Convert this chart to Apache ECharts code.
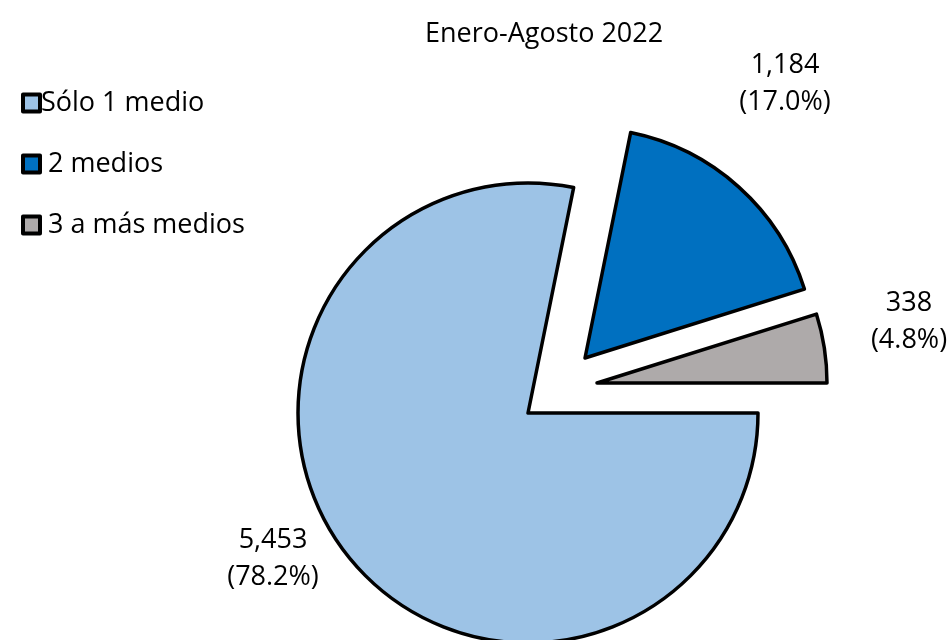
<!DOCTYPE html>
<html>
<head>
<meta charset="utf-8">
<script src="https://cdn.jsdelivr.net/npm/echarts@6/dist/echarts.min.js"></script>
<style>html,body{margin:0;padding:0;background:#fff}#c{width:948px;height:640px}</style>
</head>
<body>
<div id="c"></div>
<script>
const titleText = 'Enero-Agosto 2022';
const categories = ['Sólo 1 medio', ' 2 medios', ' 3 a más medios'];
const values = [5453, 1184, 338];
const colors = ['#9DC3E6', '#0070C0', '#AEAAAA'];
// slice anchor (pie centre of each exploded slice) and label centres
const sliceCenters = [[528, 413], [585, 358], [597, 383]];
const labelCenters = [[273, 559], [785, 84], [909, 322]];

const FONT = 'Open Sans';
const FS = 27;
const total = values.reduce((a, b) => a + b, 0);
const fmt = v => v.toLocaleString('en-US');

const chart = echarts.init(document.getElementById('c'));
const series = categories.map((_, s) => ({
  type: 'pie',
  radius: 230,
  center: sliceCenters[s],
  startAngle: 0,
  clockwise: true,
  silent: true,
  animation: false,
  labelLine: { show: false },
  labelLayout: function (p) {
    const c = labelCenters[p.dataIndex];
    return { x: c[0], y: c[1], align: 'center', verticalAlign: 'middle' };
  },
  data: categories.map((name, i) => ({
    name: name,
    value: values[i],
    itemStyle: i === s
      ? { color: colors[i], borderColor: '#000', borderWidth: 3.5, borderJoin: 'round' }
      : { color: 'rgba(0,0,0,0)', borderWidth: 0 },
    label: i === s
      ? {
          show: true,
          position: 'outside',
          overflow: 'none',
          formatter: () => fmt(values[i]) + '\n(' + (values[i] / total * 100).toFixed(1) + '%)',
          fontFamily: FONT, fontSize: FS, color: '#000', lineHeight: 37, align: 'center'
        }
      : { show: false }
  }))
}));

chart.setOption({
  backgroundColor: '#fff',
  title: {
    text: titleText, left: 420, top: 16,
    textStyle: { fontFamily: FONT, fontSize: FS, fontWeight: 'normal', color: '#000' }
  },
  legend: {
    orient: 'vertical', left: 16, top: 84,
    itemWidth: 17, itemHeight: 17, itemGap: 33,
    selectedMode: false,
    icon: 'rect',
    textStyle: { fontFamily: FONT, fontSize: FS, lineHeight: 28, color: '#000', padding: [0, 0, 0, -4] },
    data: categories.map((n, i) => ({
      name: n, itemStyle: { color: colors[i], borderColor: '#000', borderWidth: 4 }
    }))
  },
  series: series
});
</script>
</body>
</html>
